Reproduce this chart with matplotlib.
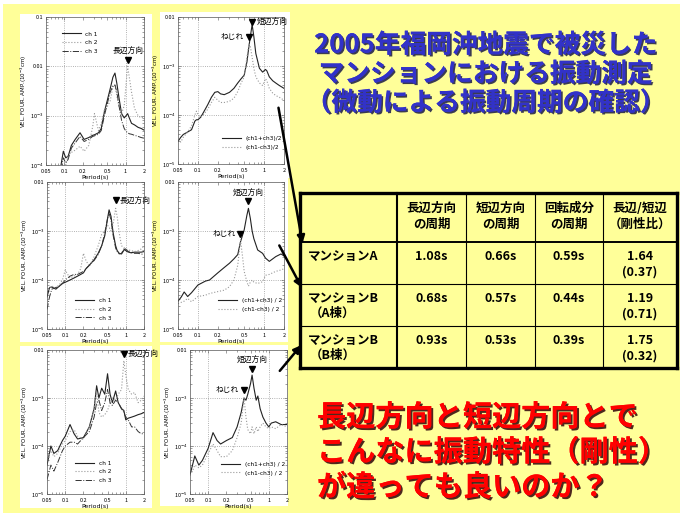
import matplotlib

matplotlib.use("Agg")
import matplotlib.patheffects as pe
import matplotlib.pyplot as plt
from matplotlib.lines import Line2D
from matplotlib.patches import FancyArrowPatch, Rectangle
from matplotlib.ticker import FixedLocator, NullFormatter

JP = ["Noto Sans CJK JP", "DejaVu Sans"]
plt.rcParams["font.family"] = JP

W, H = 680, 513
BG = "#FFFF99"

# --- microtremor Fourier spectra (period in s, amplitude in 10^-3 cm) ---
# Mansion A, long side
a_long_T = [0.088, 0.096, 0.105, 0.115, 0.13, 0.15, 0.18, 0.21, 0.25, 0.29, 0.31, 0.36, 0.4, 0.45, 0.5,
            0.56, 0.62, 0.67, 0.72, 0.78, 0.86, 0.95, 1.02, 1.08, 1.15, 1.25, 1.4, 1.6, 1.8, 2.0]
a_long_ch1 = [1.0e-4, 1.9e-4, 1.4e-4, 1.5e-4, 2.5e-4, 3.3e-4, 4.5e-4, 3.3e-4, 3.6e-4, 4.0e-4, 4.1e-4, 4.5e-4,
              5.5e-4, 1.2e-3, 2.0e-3, 3.5e-3, 6.0e-3, 7.3e-3, 4.5e-3, 2.3e-3, 1.1e-3, 9.0e-4, 1.0e-3, 1.1e-3,
              9.0e-4, 7.0e-4, 6.5e-4, 5.8e-4, 5.5e-4, 5.1e-4]
a_long_ch2 = [6.0e-5, 8.0e-5, 1.0e-4, 1.6e-4, 1.8e-4, 2.0e-4, 2.4e-4, 1.9e-4, 2.5e-4, 6.0e-4, 1.1e-3, 5.0e-4,
              7.0e-4, 1.3e-3, 1.5e-3, 2.0e-3, 3.8e-3, 4.2e-3, 2.5e-3, 1.5e-3, 1.1e-3, 1.6e-3, 4.5e-3, 1.0e-2,
              6.0e-3, 3.0e-3, 1.4e-3, 1.0e-3, 9.0e-4, 9.5e-4]
a_long_ch3 = [8.0e-5, 1.4e-4, 1.1e-4, 1.3e-4, 2.2e-4, 2.8e-4, 3.8e-4, 3.0e-4, 3.3e-4, 3.8e-4, 3.9e-4, 4.2e-4,
              5.0e-4, 1.0e-3, 1.7e-3, 3.0e-3, 4.0e-3, 4.2e-3, 3.0e-3, 1.6e-3, 8.0e-4, 5.5e-4, 4.8e-4, 4.5e-4,
              4.3e-4, 4.2e-4, 4.0e-4, 3.8e-4, 3.6e-4, 3.5e-4]

# Mansion A, short side / torsion
a_short_T = [0.05, 0.055, 0.06, 0.07, 0.08, 0.09, 0.095, 0.1, 0.11, 0.12, 0.14, 0.16, 0.18, 0.2, 0.22, 0.25,
             0.3, 0.35, 0.4, 0.45, 0.5, 0.55, 0.59, 0.62, 0.66, 0.7, 0.75, 0.85, 0.95, 1.05, 1.1, 1.2, 1.35,
             1.5, 1.7, 2.0]
a_short_sum = [2.9e-5, 3.5e-5, 4.0e-5, 4.5e-5, 5.0e-5, 7.5e-5, 8.0e-5, 8.0e-5, 9.0e-5, 1.1e-4, 1.6e-4, 2.3e-4,
               2.9e-4, 3.0e-4, 2.7e-4, 2.6e-4, 2.9e-4, 3.5e-4, 4.5e-4, 5.5e-4, 6.5e-4, 1.2e-3, 2.5e-3, 4.0e-3,
               7.0e-3, 4.0e-3, 1.8e-3, 9.0e-4, 7.5e-4, 8.5e-4, 8.0e-4, 6.0e-4, 5.0e-4, 4.5e-4, 4.0e-4, 3.5e-4]
a_short_diff = [3.2e-5, 2.8e-5, 3.5e-5, 4.5e-5, 6.0e-5, 1.0e-4, 1.2e-4, 1.0e-4, 9.0e-5, 1.0e-4, 1.3e-4, 1.8e-4,
                2.3e-4, 2.0e-4, 1.8e-4, 1.8e-4, 1.9e-4, 2.2e-4, 3.0e-4, 4.5e-4, 6.0e-4, 1.5e-3, 2.8e-3, 2.5e-3,
                1.5e-3, 9.0e-4, 6.0e-4, 4.5e-4, 4.0e-4, 5.5e-4, 5.0e-4, 3.5e-4, 2.8e-4, 2.5e-4, 2.3e-4, 2.0e-4]

# Mansion B (wing A), long side
ba_long_T = [0.05, 0.055, 0.06, 0.07, 0.08, 0.09, 0.1, 0.11, 0.12, 0.14, 0.16, 0.18, 0.2, 0.22, 0.25, 0.3,
             0.35, 0.4, 0.45, 0.5, 0.53, 0.57, 0.62, 0.68, 0.72, 0.78, 0.85, 0.95, 1.05, 1.2, 1.4, 1.6, 1.8, 2.0]
ba_long_ch1 = [4.5e-5, 7.0e-5, 7.2e-5, 6.5e-5, 7.5e-5, 8.5e-5, 9.0e-5, 9.5e-5, 1.0e-4, 1.1e-4, 1.2e-4, 1.3e-4,
               1.4e-4, 1.7e-4, 2.0e-4, 2.6e-4, 3.5e-4, 5.0e-4, 8.0e-4, 1.8e-3, 2.7e-3, 2.0e-3, 9.0e-4, 5.0e-4,
               4.0e-4, 3.5e-4, 3.4e-4, 4.2e-4, 3.8e-4, 3.6e-4, 3.7e-4, 3.7e-4, 3.7e-4, 3.8e-4]
ba_long_ch2 = [5.5e-5, 7.0e-5, 7.5e-5, 7.0e-5, 8.0e-5, 1.0e-4, 1.6e-4, 1.3e-4, 1.1e-4, 1.2e-4, 1.3e-4, 1.7e-4,
               3.5e-4, 2.5e-4, 1.9e-4, 3.0e-4, 5.0e-4, 8.5e-4, 1.0e-3, 1.3e-3, 1.2e-3, 1.0e-3, 1.4e-3, 2.9e-3,
               2.0e-3, 9.0e-4, 5.0e-4, 4.5e-4, 4.2e-4, 4.0e-4, 3.8e-4, 4.0e-4, 4.3e-4, 5.0e-4]
ba_long_ch3 = [2.5e-5, 4.5e-5, 6.5e-5, 7.0e-5, 7.5e-5, 8.5e-5, 1.0e-4, 1.1e-4, 1.2e-4, 1.3e-4, 1.3e-4, 1.4e-4,
               1.5e-4, 1.7e-4, 2.0e-4, 2.5e-4, 3.3e-4, 5.0e-4, 9.0e-4, 1.8e-3, 2.3e-3, 1.7e-3, 8.0e-4, 4.5e-4,
               3.8e-4, 3.4e-4, 3.5e-4, 4.5e-4, 4.0e-4, 3.6e-4, 3.5e-4, 3.5e-4, 3.4e-4, 3.3e-4]

# Mansion B (wing A), short side / torsion
ba_short_T = [0.05, 0.056, 0.062, 0.07, 0.08, 0.1, 0.13, 0.15, 0.2, 0.25, 0.3, 0.35, 0.4, 0.42, 0.44, 0.47,
              0.5, 0.55, 0.58, 0.62, 0.66, 0.7, 0.8, 0.95, 1.05, 1.2, 1.5, 1.8, 2.0]
ba_short_sum = [3.7e-5, 4.5e-5, 5.7e-5, 4.6e-5, 5.5e-5, 7.9e-5, 9.5e-5, 1.0e-4, 1.4e-4, 1.8e-4, 2.2e-4, 2.7e-4,
                3.3e-4, 4.5e-4, 6.0e-4, 8.0e-4, 1.05e-3, 2.1e-3, 2.9e-3, 1.8e-3, 1.0e-3, 7.0e-4, 4.1e-4,
                3.5e-4, 2.8e-4, 2.4e-4, 3.0e-4, 3.4e-4, 3.1e-4]
ba_short_diff = [3.3e-5, 3.5e-5, 3.7e-5, 4.2e-5, 3.6e-5, 4.6e-5, 4.9e-5, 5.3e-5, 5.8e-5, 6.2e-5, 7.3e-5, 1.0e-4,
                 2.0e-4, 3.7e-4, 6.5e-4, 3.2e-4, 1.5e-4, 9.2e-5, 7.5e-5, 9.0e-5, 1.0e-4, 9.0e-5, 8.5e-5,
                 9.2e-5, 1.25e-4, 1.3e-4, 1.5e-4, 1.6e-4, 1.7e-4]

# Mansion B (wing B), long side
bb_long_T = [0.05, 0.058, 0.065, 0.075, 0.09, 0.1, 0.12, 0.14, 0.16, 0.2, 0.25, 0.3, 0.33, 0.36, 0.4, 0.45,
             0.5, 0.55, 0.6, 0.68, 0.75, 0.85, 0.93, 1.0, 1.1, 1.25, 1.4, 1.6, 1.8, 2.0]
bb_long_ch1 = [4.0e-5, 1.0e-4, 7.0e-5, 8.0e-5, 1.3e-4, 1.6e-4, 2.8e-4, 1.8e-4, 1.4e-4, 1.5e-4, 2.5e-4, 6.0e-4,
               1.8e-3, 1.0e-3, 1.6e-3, 1.2e-3, 3.2e-3, 1.2e-3, 8.0e-4, 1.4e-3, 8.0e-4, 6.0e-4, 5.5e-4, 3.5e-4,
               3.8e-4, 4.0e-4, 4.2e-4, 4.5e-4, 4.7e-4, 5.0e-4]
bb_long_ch2 = [5.0e-5, 8.0e-5, 6.0e-5, 7.0e-5, 1.1e-4, 1.3e-4, 2.0e-4, 2.2e-4, 1.6e-4, 1.4e-4, 2.5e-4, 6.0e-4,
               1.3e-3, 5.0e-4, 4.0e-4, 4.5e-4, 5.5e-4, 8.0e-4, 1.0e-3, 9.0e-4, 1.2e-3, 1.5e-3, 6.0e-3, 3.0e-3,
               1.5e-3, 1.2e-3, 1.3e-3, 8.0e-4, 9.0e-4, 1.1e-3]
bb_long_ch3 = [2.0e-5, 4.0e-5, 3.0e-5, 4.5e-5, 8.0e-5, 1.0e-4, 1.2e-4, 1.2e-4, 1.1e-4, 1.5e-4, 2.0e-4, 4.0e-4,
               8.0e-4, 9.0e-4, 5.5e-4, 8.0e-4, 1.5e-3, 8.0e-4, 7.0e-4, 9.0e-4, 8.0e-4, 6.0e-4, 5.0e-4, 4.0e-4,
               3.5e-4, 2.5e-4, 2.5e-4, 2.0e-4, 1.8e-4, 1.8e-4]

# Mansion B (wing B), short side / torsion
bb_short_T = [0.05, 0.055, 0.06, 0.07, 0.08, 0.1, 0.12, 0.14, 0.16, 0.2, 0.25, 0.3, 0.35, 0.39, 0.42, 0.45,
              0.5, 0.53, 0.57, 0.62, 0.66, 0.72, 0.8, 0.9, 1.0, 1.1, 1.3, 1.6, 2.0]
bb_short_sum = [2.5e-5, 4.0e-5, 6.2e-5, 4.0e-5, 5.0e-5, 9.0e-5, 1.9e-4, 1.3e-4, 1.1e-4, 1.3e-4, 1.5e-4, 2.5e-4,
                5.0e-4, 1.0e-3, 9.0e-4, 1.2e-3, 2.0e-3, 3.0e-3, 1.6e-3, 9.0e-4, 1.1e-3, 6.0e-4, 4.0e-4,
                3.0e-4, 2.5e-4, 3.0e-4, 3.2e-4, 2.8e-4, 2.8e-4]
bb_short_diff = [2.5e-5, 3.0e-5, 4.0e-5, 3.5e-5, 4.0e-5, 7.0e-5, 1.1e-4, 8.0e-5, 6.0e-5, 6.0e-5, 8.0e-5, 1.5e-4,
                 3.0e-4, 1.0e-3, 4.0e-4, 2.2e-4, 1.8e-4, 2.5e-4, 1.8e-4, 2.5e-4, 2.0e-4, 2.5e-4, 3.0e-4,
                 2.5e-4, 2.3e-4, 2.5e-4, 2.3e-4, 2.8e-4, 2.5e-4]

# --- table of identified periods ---
col_heads = ["長辺方向\nの周期", "短辺方向\nの周期", "回転成分\nの周期", "長辺/短辺\n（剛性比）"]
row_heads = [("マンションA", ""), ("マンションB", "（A棟）"), ("マンションB", "（B棟）")]
long_period = [1.08, 0.68, 0.93]
short_period = [0.66, 0.57, 0.53]
torsion_period = [0.59, 0.44, 0.39]
ratio = [1.64, 1.19, 1.75]
ratio_sub = [0.37, 0.71, 0.32]

title_lines = ["2005年福岡沖地震で被災した", "マンションにおける振動測定", "（微動による振動周期の確認）"]
question_lines = ["長辺方向と短辺方向とで", "こんなに振動特性（剛性）", "が違っても良いのか？"]

PERIOD_TICKS = [0.05, 0.1, 0.2, 0.5, 1, 2]
PERIOD_LABELS = ["0.05", "0.1", "0.2", "0.5", "1", "2"]
AMP_LABELS = {1e-1: "0.1", 1e-2: "0.01", 1e-3: "10$^{-3}$", 1e-4: "10$^{-4}$", 1e-5: "10$^{-5}$"}

CH_STYLES = [dict(color="#222222", ls="-", lw=0.8),
             dict(color="#9a9a9a", ls=":", lw=0.8),
             dict(color="#333333", ls="-.", lw=0.7)]


def fpos(x0, y0, x1, y1):
    """pixel box (top-left origin) -> figure fraction rect"""
    return [x0 / W, 1 - y1 / H, (x1 - x0) / W, (y1 - y0) / H]


def fxy(x, y):
    return (x / W, 1 - y / H)


def spectrum(fig, box, white, T, series, labels, styles, ybot, ytop, leg_anchor, leg_loc):
    fig.add_artist(Rectangle(fxy(white[0], white[3]), (white[2] - white[0]) / W,
                             (white[3] - white[1]) / H, transform=fig.transFigure,
                             facecolor="white", edgecolor="none", zorder=0))
    ax = fig.add_axes(fpos(*box))
    for vals, lab, st in zip(series, labels, styles):
        ax.plot(T, vals, label=lab, **st)
    ax.set_xscale("log")
    ax.set_yscale("log")
    ax.set_xlim(0.05, 2)
    ax.set_ylim(ybot, ytop)
    ax.xaxis.set_major_locator(FixedLocator(PERIOD_TICKS))
    ax.set_xticklabels(PERIOD_LABELS)
    ax.xaxis.set_minor_formatter(NullFormatter())
    decades = [d for d in AMP_LABELS if ybot <= d <= ytop]
    ax.yaxis.set_major_locator(FixedLocator(decades))
    ax.set_yticklabels([AMP_LABELS[d] for d in decades])
    ax.yaxis.set_minor_formatter(NullFormatter())
    for xv in (0.1, 1):
        ax.axvline(xv, color="#999999", ls=":", lw=0.6, zorder=0)
    for d in decades[1:-1]:
        ax.axhline(d, color="#999999", ls=":", lw=0.6, zorder=0)
    ax.tick_params(which="both", direction="in", top=True, right=True,
                   labelsize=4.0, width=0.4, color="#555555")
    ax.tick_params(axis="x", pad=3.2)
    ax.tick_params(axis="y", pad=2.0)
    ax.tick_params(which="major", length=2.5)
    ax.tick_params(which="minor", length=1.3)
    for sp in ax.spines.values():
        sp.set_linewidth(0.5)
        sp.set_color("#555555")
    ax.set_xlabel("Period(s)", fontsize=4.5, labelpad=0.2, family="DejaVu Sans")
    ax.set_ylabel("VEL. FOUR. AMP.(10$^{-3}$cm)", fontsize=4, labelpad=0.5, family="DejaVu Sans")
    ax.legend(loc=leg_loc, bbox_to_anchor=leg_anchor, frameon=False,
              handlelength=3.2, labelspacing=0.6, borderpad=0.2, handletextpad=0.8,
              prop={"family": "DejaVu Sans", "size": 4.2})
    return ax


def mark(ax, T, y, text, where):
    ax.plot([T], [y], marker="v", color="black", ms=4.2, ls="none", clip_on=False)
    if where == "above":
        off, ha, va = (0, 3.5), "center", "bottom"
    elif where == "right":
        off, ha, va = (3, 0), "left", "center"
    else:
        off, ha, va = (-3.5, 0), "right", "center"
    ax.annotate(text, (T, y), xytext=off, textcoords="offset points", ha=ha, va=va,
                fontsize=5.6, family=JP, annotation_clip=False)


fig = plt.figure(figsize=(W / 100, H / 100), dpi=100, facecolor="white")
fig.add_artist(Rectangle((3 / W, 0), 1, 1 - 4 / H, transform=fig.transFigure,
                         facecolor=BG, edgecolor="none", zorder=-1))

three = ["ch 1", "ch 2", "ch 3"]
pair = ["(ch1+ch3)/2", "(ch1-ch3)/2"]
pair_sp = ["(ch1+ch3) / 2", "(ch1-ch3) / 2"]

ax1 = spectrum(fig, (46, 17, 144, 165), (20, 14, 152, 178), a_long_T,
               [a_long_ch1, a_long_ch2, a_long_ch3], three, CH_STYLES, 1e-4, 1e-1,
               (0.12, 0.93), "upper left")
mark(ax1, 1.08, 1.35e-2, "長辺方向", "above")

ax2 = spectrum(fig, (178, 17, 284, 164), (160, 12, 290, 178), a_short_T,
               [a_short_sum, a_short_diff], pair, CH_STYLES[:2], 1e-5, 1e-2,
               (1.02, 0.07), "lower right")
mark(ax2, 0.66, 7.9e-3, "短辺方向", "right")
mark(ax2, 0.59, 3.9e-3, "ねじれ", "left")

ax3 = spectrum(fig, (47, 182, 144, 329), (20, 178, 152, 342), ba_long_T,
               [ba_long_ch1, ba_long_ch2, ba_long_ch3], three, CH_STYLES, 1e-5, 1e-2,
               (0.25, 0.03), "lower left")
mark(ax3, 0.68, 4.2e-3, "長辺方向", "right")

ax4 = spectrum(fig, (178, 182, 284, 329), (160, 175, 288, 342), ba_short_T,
               [ba_short_sum, ba_short_diff], pair_sp, CH_STYLES[:2], 1e-5, 1e-2,
               (1.02, 0.09), "lower right")
mark(ax4, 0.57, 4.0e-3, "短辺方向", "above")
mark(ax4, 0.44, 8.5e-4, "ねじれ", "left")

ax5 = spectrum(fig, (47, 350, 144, 494), (20, 346, 152, 508), bb_long_T,
               [bb_long_ch1, bb_long_ch2, bb_long_ch3], three, CH_STYLES, 1e-5, 1e-2,
               (0.25, 0.05), "lower left")
mark(ax5, 0.93, 8.3e-3, "長辺方向", "right")

ax6 = spectrum(fig, (190, 350, 287, 494), (160, 345, 288, 506), bb_short_T,
               [bb_short_sum, bb_short_diff], pair_sp, CH_STYLES[:2], 1e-5, 1e-2,
               (1.02, 0.1), "lower right")
mark(ax6, 0.53, 4.0e-3, "短辺方向", "above")
mark(ax6, 0.39, 1.5e-3, "ねじれ", "left")

# title block
blue_shadow = [pe.withSimplePatchShadow(offset=(1.2, -1.2), shadow_rgbFace="#0a0a40", alpha=0.8), pe.Normal()]
for i, line in enumerate(title_lines):
    fig.text(486 / W, 1 - (45 + 29 * i) / H, line, ha="center", va="center", fontsize=18.5,
             fontweight="bold", color="#3232C8", family=JP, path_effects=blue_shadow)

# period table
x_cols = [300, 397, 466, 535, 603, 677]
y_rows = [193, 242, 284, 326, 368]


def hline(y, x0, x1, lw):
    fig.add_artist(Line2D([x0 / W, x1 / W], [1 - y / H, 1 - y / H], transform=fig.transFigure,
                          color="black", lw=lw, solid_capstyle="projecting"))


def vline(x, y0, y1, lw):
    fig.add_artist(Line2D([x / W, x / W], [1 - y0 / H, 1 - y1 / H], transform=fig.transFigure,
                          color="black", lw=lw, solid_capstyle="projecting"))


fig.add_artist(Rectangle(fxy(x_cols[0], y_rows[-1]), (x_cols[-1] - x_cols[0]) / W,
                         (y_rows[-1] - y_rows[0]) / H, transform=fig.transFigure,
                         facecolor=BG, edgecolor="none", zorder=0))
for y in y_rows[1:-1]:
    hline(y, x_cols[0], x_cols[-1], 1.4 if y == y_rows[1] else 0.8)
for x in x_cols[1:-1]:
    vline(x, y_rows[0], y_rows[-1], 1.5 if x == x_cols[1] else 0.8)
hline(y_rows[0], x_cols[0], x_cols[-1], 2.4)
hline(y_rows[-1], x_cols[0], x_cols[-1], 2.4)
vline(x_cols[0], y_rows[0], y_rows[-1], 2.4)
vline(x_cols[-1], y_rows[0], y_rows[-1], 2.4)

cell_font = dict(fontsize=9, fontweight="bold", family=JP, color="black", va="center")
for j, head in enumerate(col_heads):
    cx = (x_cols[j + 1] + x_cols[j + 2]) / 2
    for k, part in enumerate(head.split("\n")):
        fig.text(cx / W, 1 - (208 + 16 * k) / H, part, ha="center", **cell_font)

for i, (name, sub) in enumerate(row_heads):
    ytop = y_rows[i + 1]
    fig.text(308 / W, 1 - (ytop + 14) / H, name, ha="left", **cell_font)
    if sub:
        fig.text(310 / W, 1 - (ytop + 29) / H, sub, ha="left", **cell_font)
    vals = [f"{long_period[i]:.2f}s", f"{short_period[i]:.2f}s", f"{torsion_period[i]:.2f}s"]
    for j, v in enumerate(vals):
        cx = (x_cols[j + 1] + x_cols[j + 2]) / 2
        fig.text(cx / W, 1 - (ytop + 14) / H, v, ha="center", **cell_font)
    cx = (x_cols[4] + x_cols[5]) / 2
    fig.text(cx / W, 1 - (ytop + 14) / H, f"{ratio[i]:.2f}", ha="center", **cell_font)
    fig.text(cx / W, 1 - (ytop + 30) / H, f"({ratio_sub[i]:.2f})", ha="center", **cell_font)

# arrows from the short-side spectra to the table rows
for (x0, y0), (x1, y1) in [((278, 105), (303, 246)), ((278, 243), (303, 290)), ((278, 373), (303, 343))]:
    fig.add_artist(FancyArrowPatch(fxy(x0, y0), fxy(x1, y1), transform=fig.transFigure,
                                   arrowstyle="-|>", mutation_scale=11, lw=1.8, color="black"))

# closing question
red_shadow = [pe.withSimplePatchShadow(offset=(1.4, -1.4), shadow_rgbFace="#3a1010", alpha=0.9), pe.Normal()]
for i, line in enumerate(question_lines):
    fig.text(317 / W, 1 - (417 + 35 * i) / H, line, ha="left", va="center", fontsize=21,
             fontweight="bold", color="#FF0000", family=JP, path_effects=red_shadow)

fig.savefig("out.png", dpi=100, facecolor=fig.get_facecolor())
